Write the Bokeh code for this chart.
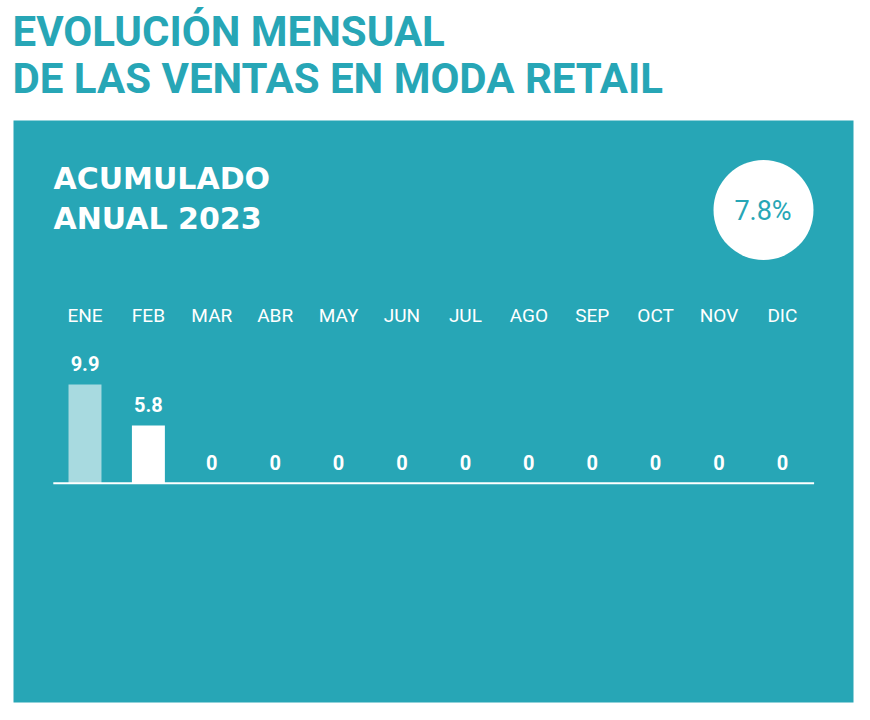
from bokeh.plotting import figure
from bokeh.models import Range1d, BoxAnnotation, ColumnDataSource
from bokeh.core.properties import value
from bokeh.embed import file_html
from bokeh.resources import INLINE

# ---- data ----
months = ["ENE", "FEB", "MAR", "ABR", "MAY", "JUN", "JUL", "AGO", "SEP", "OCT", "NOV", "DIC"]
sales = [9.9, 5.8, 0, 0, 0, 0, 0, 0, 0, 0, 0, 0]
annual_total = "7.8%"
title_lines = ["EVOLUCIÓN MENSUAL", "DE LAS VENTAS EN MODA RETAIL"]
subtitle_lines = ["ACUMULADO", "ANUAL 2023"]

TEAL = "#27A6B6"
LIGHT = "#A8DAE0"
WHITE = "#FFFFFF"

W, H = 858, 708
PX_PER_BAND = 63.4
PX_PER_UNIT = 9.96
X0_PX = 84.5      # px of first band centre
Y0_PX = 482.7     # px (from top) of value 0

x_start = -X0_PX / PX_PER_BAND
x_end = (W - X0_PX) / PX_PER_BAND
y_start = -(H - Y0_PX) / PX_PER_UNIT
y_end = Y0_PX / PX_PER_UNIT

def fx(px):
    return (px - X0_PX) / PX_PER_BAND

def fy(py):
    return (Y0_PX - py) / PX_PER_UNIT

p = figure(width=W, height=H, output_backend="svg", toolbar_location=None,
           x_range=Range1d(x_start, x_end), y_range=Range1d(y_start, y_end),
           min_border=0, min_border_left=0, min_border_right=0,
           min_border_top=0, min_border_bottom=0)
p.axis.visible = False
p.grid.visible = False
p.outline_line_color = None
p.background_fill_color = WHITE
p.border_fill_color = WHITE

# teal panel
p.add_layout(BoxAnnotation(left=fx(13), right=fx(853), top=fy(120), bottom=fy(702),
                           fill_color=TEAL, fill_alpha=1.0, line_color=None, level="underlay"))

xs = list(range(len(months)))
colors = [LIGHT] + [WHITE] * (len(months) - 1)
src = ColumnDataSource(dict(x=xs, month=months, v=sales, color=colors,
                            lbl=[f"{v:g}" for v in sales]))

p.vbar(x="x", top="v", bottom=0, width=0.52, fill_color="color", line_color=None, source=src)

# baseline
p.segment(x0=[-0.5], y0=[0], x1=[len(months) - 0.5], y1=[0], line_color=WHITE, line_width=2)

# value labels
p.text(x="x", y="v", text="lbl", source=src, text_align="center", text_baseline="middle",
       y_offset=-21, text_color=WHITE, text_font=value("Roboto"), text_font_size="20px",
       text_font_style="bold")

# month labels
p.text(x="x", y=0, text="month", source=src, text_align="center", text_baseline="middle",
       y_offset=-167.7, text_color=WHITE, text_font=value("Roboto"), text_font_size="19px")

# main title
p.text(x=[fx(12)] * 2, y=[fy(31), fy(78)], text=title_lines, text_align="left",
       text_baseline="middle", text_color=TEAL, text_font=value("Roboto"),
       text_font_size="42px", text_font_style="bold")

# subtitle
p.text(x=[fx(53)] * 2, y=[fy(178), fy(217.5)], text=subtitle_lines, text_align="left",
       text_baseline="middle", text_color=WHITE, text_font=value("DejaVu Sans"),
       text_font_size="30px", text_font_style="bold")

# circle with annual total
p.scatter(x=[fx(763)], y=[fy(209.5)], marker="circle", size=100,
          fill_color=WHITE, line_color=None)
p.text(x=[fx(762.5)], y=[fy(210)], text=[annual_total], text_align="center",
       text_baseline="middle", text_color=TEAL, text_font=value("Roboto"),
       text_font_size="27px")

open("out.html", "w").write(file_html(p, INLINE))
